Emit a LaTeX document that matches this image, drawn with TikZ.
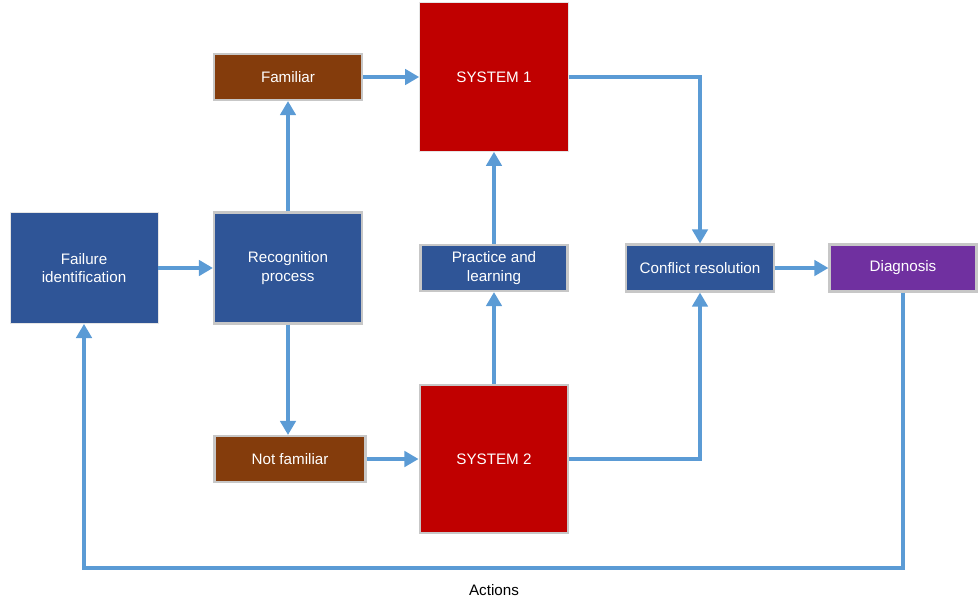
\documentclass[tikz,border=0pt]{standalone}
\usepackage{fontspec}
\setmainfont{Liberation Sans}
\usetikzlibrary{arrows.meta, positioning}
\definecolor{azulcaja}{HTML}{2F5597}
\definecolor{rojocaja}{HTML}{C00000}
\definecolor{cafecaja}{HTML}{843C0C}
\definecolor{moradocaja}{HTML}{7030A0}
\definecolor{azullinea}{HTML}{5B9BD5}
\tikzstyle{bloque} = [rectangle, fill=azulcaja, text=white, draw=black!22, line width=1.5pt, align=center, inner sep=2pt, font=\fontsize{10.8}{13}\selectfont]
\tikzstyle{grande} = [bloque, minimum width=3.7cm, minimum height=2.775cm]
\tikzstyle{chico} = [bloque, minimum width=3.7cm, minimum height=1.15cm]
\tikzstyle{sistema} = [bloque, fill=rojocaja, minimum width=3.72cm, minimum height=3.72cm]
\tikzstyle{flecha} = [draw=azullinea, line width=2.3pt, -{Triangle[length=10pt,width=11pt]}]

\begin{document}
\begin{tikzpicture}[x=0.025cm, y=-0.025cm]
		\useasboundingbox (0,0) rectangle (980,601);
		\node [grande, draw=black!10, line width=0.6pt] (falla) at (84,268) {Failure\\identification};
		\node [grande] (reconocimiento) at (288,268) {Recognition\\process};
		\node [chico, fill=cafecaja] (familiar) at (288,77) {Familiar};
		\node [chico, fill=cafecaja, minimum width=3.775cm] (nofamiliar) at (290,459) {Not familiar};
		\node [sistema, draw=black!10, line width=0.6pt] (sistema1) at (494,77) {SYSTEM 1};
		\node [sistema] (sistema2) at (494,459) {SYSTEM 2};
		\node [chico, minimum width=3.675cm] (practica) at (494,268) {Practice and\\learning};
		\node [chico, minimum height=1.175cm] (conflicto) at (700,268) {Conflict resolution};
		\node [chico, fill=moradocaja, minimum width=3.675cm, minimum height=1.175cm] (diagnostico) at (903,268) {Diagnosis};
		\node [font=\fontsize{10.8}{13}\selectfont] (acciones) at (494,590) {Actions};
		\coordinate (fondo) at (494,568);
		\draw [flecha] (falla) -- (reconocimiento);
		\draw [flecha] (reconocimiento) -- (familiar);
		\draw [flecha] (reconocimiento.south) -- (reconocimiento.south |- nofamiliar.north);
		\draw [flecha] (familiar) -- (sistema1);
		\draw [flecha] (nofamiliar) -- (sistema2);
		\draw [flecha] (sistema2) -- (practica);
		\draw [flecha] (practica) -- (sistema1);
		\draw [flecha] (sistema1.east) -| (conflicto.north);
		\draw [flecha] (sistema2.east) -| (conflicto.south);
		\draw [flecha] (conflicto) -- (diagnostico);
		\draw [flecha] (diagnostico.south) |- (fondo) -| (falla.south);
	\end{tikzpicture}
\end{document}
